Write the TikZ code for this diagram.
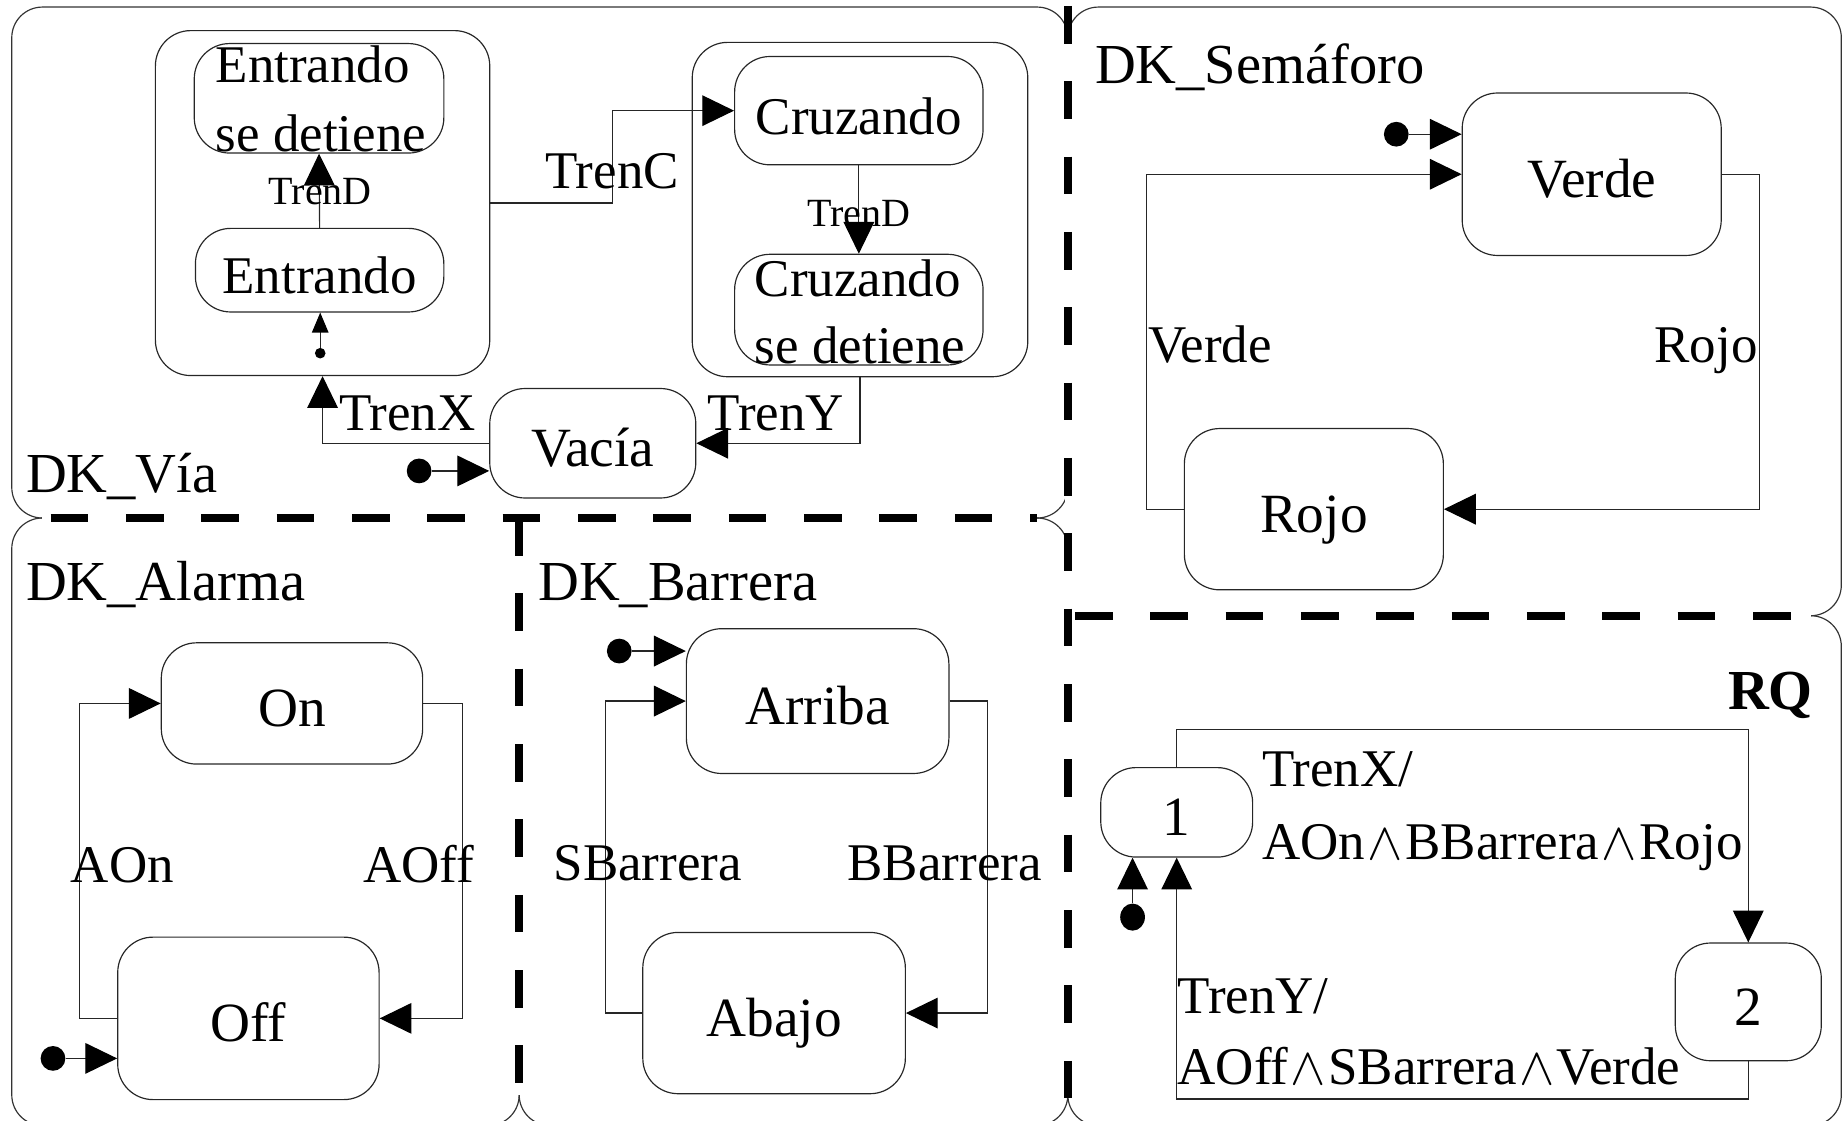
\RequirePackage{fix-cm}
\documentclass[tikz,border=0pt]{standalone}
\usepackage{fontspec}
\setmainfont{Liberation Serif}
\newcommand{\andop}{\kern2pt$\wedge$\kern2pt}
\usetikzlibrary{arrows.meta,shapes.geometric}
\begin{document}
\begin{tikzpicture}[x=1pt,y=-1pt,
  region/.style={draw=black!80,line width=1pt,rounded corners=26pt},
  sepunder/.style={draw=white,line width=4pt},
  sepline/.style={draw=black,line width=6.5pt,dash pattern=on 32pt off 32pt},
  stbox/.style={draw=black!85,line width=1pt,rounded corners=30pt,inner sep=0pt,
    text height=40pt,text depth=0pt,font=\fontsize{47}{56}\selectfont},
  substbox/.style={stbox,font=\fontsize{45}{56}\selectfont},
  trans/.style={draw=black!85,line width=1pt,-{Triangle[length=27pt,width=26pt,color=black]}},
  subtrans/.style={draw=black!85,line width=1pt,-{Triangle[length=17pt,width=14pt,color=black]}},
  tlabel/.style={inner sep=0pt,font=\fontsize{45}{56}\selectfont},
  smalllabel/.style={inner sep=0pt,anchor=base,font=\fontsize{34}{40}\selectfont},
  title/.style={inner sep=0pt,anchor=base west,font=\fontsize{48}{56}\selectfont},
  initdot/.style={circle,fill=black,inner sep=0pt,minimum size=21pt},
  subdot/.style={circle,fill=black,inner sep=0pt,minimum size=9pt},
]
\useasboundingbox (0,0) rectangle (1568,952);

% ---- orthogonal regions ----
\draw[region] (10,6) rectangle (907,440);
\draw[region] (907,6) rectangle (1564,523);
\draw[region] (10,440) rectangle (441,956);
\draw[region] (441,440) rectangle (907,956);
\draw[region] (907,523) rectangle (1564,956);

% ---- dashed separators between regions ----
\fill[white] (413,442) rectangle (469,470);
\fill[white] (909,495) rectangle (936,551);
\draw[sepunder] (36,440) -- (881,440);
\draw[sepunder] (441,440) -- (441,930);
\draw[sepunder] (907,0) -- (907,930);
\draw[sepunder] (907,523) -- (1538,523);
\draw[sepline] (43,440) -- (881,440);
\draw[sepline] (441,440) -- (441,933);
\draw[sepline] (907,5) -- (907,933);
\draw[sepline] (913,523) -- (1531,523);

% ---- region titles ----
\node[title] (tVia) at (22,418) {DK\_Vía};
\node[title] (tSem) at (930,71) {DK\_Semáforo};
\node[title] (tAla) at (22,510) {DK\_Alarma};
\node[title] (tBar) at (457,510) {DK\_Barrera};
\node[inner sep=0pt,anchor=base east,font=\fontsize{48}{56}\selectfont\bfseries] (tRQ) at (1540,603) {RQ};

% ---- DK_Via ----
\node[stbox,minimum width=284pt,minimum height=293pt] (supE) at (274,172.5) {};
\node[stbox,minimum width=285pt,minimum height=284pt] (supC) at (730.5,178) {};
\node[substbox,minimum width=212pt,minimum height=93pt] (ents) at (271,83.5) {};
\node[tlabel,anchor=base west] (entsA) at (183,70) {Entrando};
\node[tlabel,anchor=base west] (entsB) at (183,129) {se detiene};
\node[substbox,minimum width=211pt,minimum height=71pt] (ent) at (271.5,229.5) {Entrando};
\node[substbox,minimum width=211pt,minimum height=92pt] (cruz) at (729.5,94) {Cruzando};
\node[substbox,minimum width=211pt,minimum height=94pt] (cruzs) at (729.5,263) {};
\node[tlabel,anchor=base west] (cruzsA) at (641,252) {Cruzando};
\node[tlabel,anchor=base west] (cruzsB) at (641,309) {se detiene};
\node[stbox,minimum width=175pt,minimum height=93pt] (vacia) at (503.5,376.5) {Vacía};

\node[subdot] (e0) at (272,300) {};
\draw[subtrans] (e0) -- (e0 |- ent.south);
\draw[trans] (ent.north) -- (ents.south);
\node[smalllabel] (lTrenD1) at (272,174) {TrenD};
\draw[trans] (cruz.south) -- (cruzs.north);
\node[smalllabel] (lTrenD2) at (729.5,192) {TrenD};
\draw[trans] (supE.east) -- ++(104,0) |- (cruz.west);
\node[tlabel,anchor=base west] (lTrenC) at (463,160) {TrenC};
\draw[trans] (supC.south) |- (vacia.east);
\node[tlabel,anchor=base west] (lTrenY) at (601,366) {TrenY};
\draw[trans] (vacia.west) -| (supE.south);
\node[tlabel,anchor=base west] (lTrenX) at (288,366) {TrenX};
\node[initdot] (v0) at (356,400) {};
\draw[trans] (v0) -- (v0 -| vacia.west);

% ---- DK_Semaforo ----
\node[stbox,minimum width=220pt,minimum height=138pt] (verde) at (1352,148) {Verde};
\node[stbox,minimum width=220pt,minimum height=137pt] (rojo) at (1116,432.5) {Rojo};
\node[initdot] (s0) at (1186,114) {};
\draw[trans] (s0) -- (s0 -| verde.west);
\draw[trans] (rojo.west) -- ++(-32,0) |- (verde.west);
\draw[trans] (verde.east) -- ++(32,0) |- (rojo.east);
\node[tlabel,anchor=base west] (lVerde) at (975,308) {Verde};
\node[tlabel,anchor=base east] (lRojo) at (1493,308) {Rojo};

% ---- DK_Alarma ----
\node[stbox,minimum width=222pt,minimum height=103pt] (on) at (248,597.5) {On};
\node[stbox,minimum width=222pt,minimum height=138pt] (off) at (211,865) {Off};
\draw[trans] (off.west) -- ++(-32,0) |- (on.west);
\draw[trans] (on.east) -- ++(33,0) |- (off.east);
\node[tlabel,anchor=base west] (lAOn) at (60,750) {AOn};
\node[tlabel,anchor=base east] (lAOff) at (403,750) {AOff};
\node[initdot] (a0) at (45,899) {};
\draw[trans] (a0) -- (a0 -| off.west);

% ---- DK_Barrera ----
\node[stbox,minimum width=223pt,minimum height=123pt] (arriba) at (694.5,595.5) {Arriba};
\node[stbox,minimum width=223pt,minimum height=137pt] (abajo) at (657.5,860.5) {Abajo};
\draw[trans] (abajo.west) -- ++(-31,0) |- (arriba.west);
\draw[trans] (arriba.east) -- ++(32,0) |- (abajo.east);
\node[tlabel,anchor=base west] (lSB) at (470,748) {SBarrera};
\node[tlabel,anchor=base east] (lBB) at (885,748) {BBarrera};
\node[initdot] (b0) at (526,553) {};
\draw[trans] (b0) -- (b0 -| arriba.west);

% ---- RQ ----
\node[stbox,minimum width=129pt,minimum height=76pt] (q1) at (999.5,690) {1};
\node[stbox,minimum width=124pt,minimum height=100pt] (q2) at (1485,851) {2};
\draw[trans] (q1.north) -- ++(0,-32) -| (q2.north);
\draw[trans] (q2.south) -- ++(0,32) -| (q1.south);
\node[tlabel,anchor=base west] (lqA1) at (1072,668) {TrenX/};
\node[tlabel,anchor=base west] (lqA2) at (1072,730) {AOn\andop BBarrera\andop Rojo};
\node[tlabel,anchor=base west] (lqB1) at (1000,861) {TrenY/};
\node[tlabel,anchor=base west] (lqB2) at (1000,921) {AOff\andop SBarrera\andop Verde};
\node[ellipse,fill=black,inner sep=0pt,minimum width=21pt,minimum height=23pt] (r0) at (962,779) {};
\draw[trans] (r0) -- (r0 |- q1.south);
\end{tikzpicture}
\end{document}
